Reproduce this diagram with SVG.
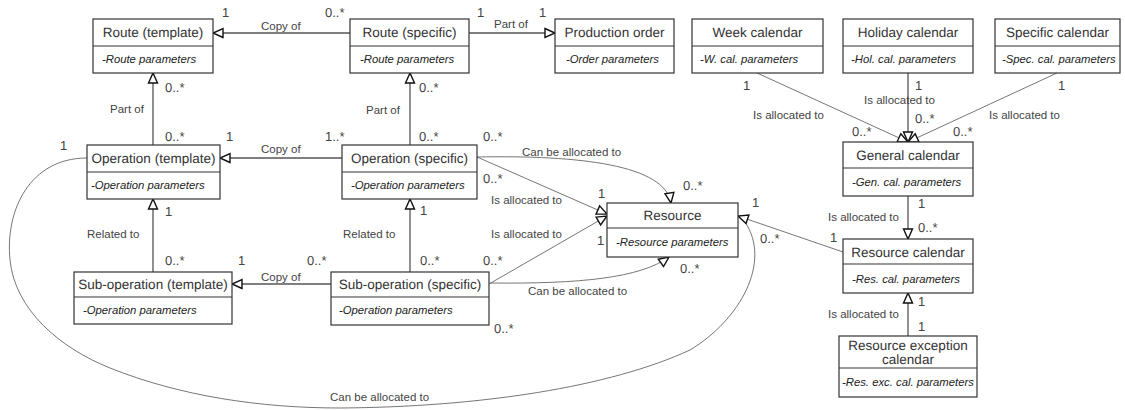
<svg xmlns="http://www.w3.org/2000/svg" width="1125" height="410" viewBox="0 0 1125 410">
<defs>
<marker id="tri" markerUnits="userSpaceOnUse" markerWidth="14" markerHeight="14" viewBox="0 0 14 14" refX="12" refY="7" orient="auto">
<path d="M2,2.5 L12,7 L2,11.5 Z" fill="#fff" stroke="#111" stroke-width="1.4" stroke-linejoin="miter"/>
</marker>
</defs>
<style>
.box{fill:#fff;stroke:#333;stroke-width:1.2}
.div{stroke:#333;stroke-width:1.2}
.t{font-family:"Liberation Sans",Arial,sans-serif;font-size:13.5px;font-weight:400;fill:#333;text-anchor:middle;text-rendering:geometricPrecision}
.a{font-family:"Liberation Sans",Arial,sans-serif;font-size:11.3px;font-style:italic;fill:#222}
.c{fill:none;stroke:#555;stroke-width:1.3}
.d{fill:none;stroke:#666;stroke-width:0.9}
.l{font-family:"Liberation Sans",Arial,sans-serif;font-size:11.5px;fill:#444}
.m{font-family:"Liberation Sans",Arial,sans-serif;font-size:13px;fill:#444;text-rendering:geometricPrecision}
</style>
<rect width="1125" height="410" fill="#fff"/>
<g id="connectors">
<path class="c" d="M350,33 L213,33" marker-end="url(#tri)"/>
<path class="c" d="M469,33 L555,33" marker-end="url(#tri)"/>
<path class="c" d="M153,145 L153,73" marker-end="url(#tri)"/>
<path class="c" d="M410,145 L410,73" marker-end="url(#tri)"/>
<path class="c" d="M342,158 L220,158" marker-end="url(#tri)"/>
<path class="c" d="M153,272 L153,199" marker-end="url(#tri)"/>
<path class="c" d="M410,272 L410,199" marker-end="url(#tri)"/>
<path class="c" d="M331,284 L232,284" marker-end="url(#tri)"/>
<path class="d" d="M477,157 L607,214" marker-end="url(#tri)"/>
<path class="d" d="M489,284 L607,216" marker-end="url(#tri)"/>
<path class="d" d="M477,157 C580,155 665,165 671,203" marker-end="url(#tri)"/>
<path class="d" d="M490,283 C580,284 640,278 669,257" marker-end="url(#tri)"/>
<path class="d" d="M87,158 C30,158 5,210 10,260 C15,310 60,348 110,368 C180,396 260,408 340,408 C480,407 610,387 690,350 C740,320 772,262 745,222"/>
<path class="d" d="M757,73 L908,142" marker-end="url(#tri)"/>
<path class="c" d="M908,73 L908,142" marker-end="url(#tri)"/>
<path class="d" d="M1057,73 L908,142" marker-end="url(#tri)"/>
<path class="c" d="M908,196 L908,239" marker-end="url(#tri)"/>
<path class="d" d="M843,252 L738,216" marker-end="url(#tri)"/>
<path class="c" d="M908,336 L908,293" marker-end="url(#tri)"/>
</g>
<g id="labels">
<text class="l" x="261" y="30">Copy of</text>
<text class="m" x="222" y="17">1</text>
<text class="m" x="325" y="17">0..*</text>
<text class="l" x="494" y="28">Part of</text>
<text class="m" x="477" y="17">1</text>
<text class="m" x="539" y="17">1</text>
<text class="m" x="165" y="92">0..*</text>
<text class="l" x="110" y="113">Part of</text>
<text class="m" x="165" y="141">0..*</text>
<text class="m" x="226" y="141">1</text>
<text class="m" x="325" y="141">1..*</text>
<text class="m" x="419" y="92">0..*</text>
<text class="l" x="366" y="114">Part of</text>
<text class="m" x="419" y="141">0..*</text>
<text class="m" x="483" y="141">0..*</text>
<text class="m" x="60" y="150">1</text>
<text class="l" x="261" y="153">Copy of</text>
<text class="l" x="87" y="238">Related to</text>
<text class="m" x="165" y="216">1</text>
<text class="m" x="165" y="265">0..*</text>
<text class="m" x="238" y="265">1</text>
<text class="m" x="307" y="265">0..*</text>
<text class="m" x="420" y="215">1</text>
<text class="l" x="343" y="238">Related to</text>
<text class="m" x="420" y="265">0..*</text>
<text class="m" x="483" y="265">0..*</text>
<text class="m" x="483" y="183">0..*</text>
<text class="l" x="491" y="204">Is allocated to</text>
<text class="m" x="598" y="198">1</text>
<text class="l" x="491" y="238">Is allocated to</text>
<text class="m" x="597" y="245">1</text>
<text class="l" x="522" y="156">Can be allocated to</text>
<text class="m" x="683" y="190">0..*</text>
<text class="l" x="528" y="295">Can be allocated to</text>
<text class="m" x="680" y="273">0..*</text>
<text class="m" x="494" y="333">0..*</text>
<text class="l" x="330" y="401">Can be allocated to</text>
<text class="l" x="261" y="281">Copy of</text>
<text class="m" x="743" y="90">1</text>
<text class="l" x="753" y="119">Is allocated to</text>
<text class="m" x="852" y="136">0..*</text>
<text class="m" x="915" y="90">1</text>
<text class="l" x="864" y="104">Is allocated to</text>
<text class="m" x="915" y="123">0..*</text>
<text class="m" x="953" y="136">0..*</text>
<text class="l" x="989" y="119">Is allocated to</text>
<text class="m" x="1058" y="90">1</text>
<text class="m" x="918" y="208">1</text>
<text class="l" x="828" y="221">Is allocated to</text>
<text class="m" x="918" y="232">0..*</text>
<text class="m" x="830" y="242">1</text>
<text class="m" x="752" y="207">1</text>
<text class="m" x="760" y="243">0..*</text>
<text class="m" x="918" y="306">1</text>
<text class="l" x="828" y="318">Is allocated to</text>
<text class="m" x="918" y="331">1</text>
</g>
<g id="route-template">
<rect class="box" x="93" y="19" width="120" height="54"/><line class="div" x1="93" y1="46" x2="213" y2="46"/>
<text class="t" x="153" y="37">Route (template)</text><text class="a" x="102" y="63">-Route parameters</text>
</g>
<g id="route-specific">
<rect class="box" x="350" y="19" width="119" height="54"/><line class="div" x1="350" y1="46" x2="469" y2="46"/>
<text class="t" x="409.5" y="37">Route (specific)</text><text class="a" x="360" y="63">-Route parameters</text>
</g>
<g id="production-order">
<rect class="box" x="555" y="19" width="119" height="54"/><line class="div" x1="555" y1="46" x2="674" y2="46"/>
<text class="t" x="614.5" y="37">Production order</text><text class="a" x="566" y="63">-Order parameters</text>
</g>
<g id="week-calendar">
<rect class="box" x="692" y="19" width="131" height="54"/><line class="div" x1="692" y1="46" x2="823" y2="46"/>
<text class="t" x="757.5" y="37">Week calendar</text><text class="a" x="700" y="63">-W. cal. parameters</text>
</g>
<g id="holiday-calendar">
<rect class="box" x="843" y="19" width="130" height="54"/><line class="div" x1="843" y1="46" x2="973" y2="46"/>
<text class="t" x="908" y="37">Holiday calendar</text><text class="a" x="851" y="63">-Hol. cal. parameters</text>
</g>
<g id="specific-calendar">
<rect class="box" x="995" y="19" width="125" height="54"/><line class="div" x1="995" y1="46" x2="1120" y2="46"/>
<text class="t" x="1057.5" y="37">Specific calendar</text><text class="a" x="1002" y="63">-Spec. cal. parameters</text>
</g>
<g id="operation-template">
<rect class="box" x="87" y="145" width="133" height="54"/><line class="div" x1="87" y1="172" x2="220" y2="172"/>
<text class="t" x="153.5" y="163">Operation (template)</text><text class="a" x="91" y="189">-Operation parameters</text>
</g>
<g id="operation-specific">
<rect class="box" x="342" y="145" width="135" height="54"/><line class="div" x1="342" y1="172" x2="477" y2="172"/>
<text class="t" x="409.5" y="163">Operation (specific)</text><text class="a" x="351" y="189">-Operation parameters</text>
</g>
<g id="resource">
<rect class="box" x="607" y="203" width="131" height="54"/><line class="div" x1="607" y1="228" x2="738" y2="228"/>
<text class="t" x="672.5" y="220">Resource</text><text class="a" x="616" y="246">-Resource parameters</text>
</g>
<g id="general-calendar">
<rect class="box" x="843" y="142" width="130" height="54"/><line class="div" x1="843" y1="168" x2="973" y2="168"/>
<text class="t" x="908" y="160">General calendar</text><text class="a" x="852" y="186">-Gen. cal. parameters</text>
</g>
<g id="resource-calendar">
<rect class="box" x="843" y="239" width="130" height="54"/><line class="div" x1="843" y1="264" x2="973" y2="264"/>
<text class="t" x="908" y="257">Resource calendar</text><text class="a" x="852" y="283">-Res. cal. parameters</text>
</g>
<g id="suboperation-template">
<rect class="box" x="74" y="272" width="158" height="52"/><line class="div" x1="74" y1="297" x2="232" y2="297"/>
<text class="t" x="153" y="289">Sub-operation (template)</text><text class="a" x="83" y="314">-Operation parameters</text>
</g>
<g id="suboperation-specific">
<rect class="box" x="331" y="272" width="158" height="53"/><line class="div" x1="331" y1="297" x2="489" y2="297"/>
<text class="t" x="410" y="289">Sub-operation (specific)</text><text class="a" x="339" y="314">-Operation parameters</text>
</g>
<g id="resource-exception-calendar">
<rect class="box" x="839" y="336" width="138" height="61"/><line class="div" x1="839" y1="368" x2="977" y2="368"/>
<text class="t" x="908" y="350">Resource exception</text><text class="t" x="908" y="364">calendar</text>
<text class="a" x="842" y="386">-Res. exc. cal. parameters</text>
</g>
</svg>
